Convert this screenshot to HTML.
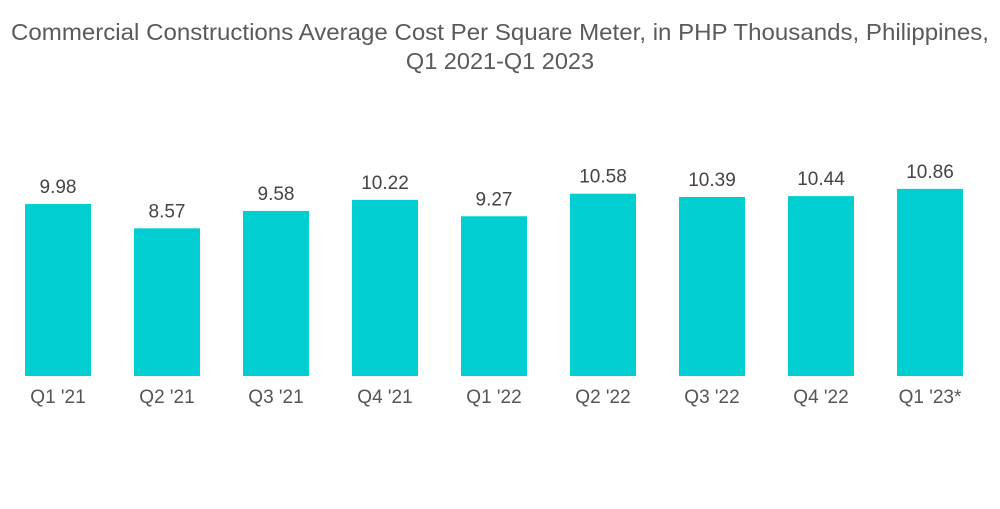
<!DOCTYPE html>
<html><head><meta charset="utf-8"><style>
body{margin:0;background:#fff;width:1000px;height:504px;overflow:hidden;font-family:"Liberation Sans",sans-serif}
</style></head><body>
<svg width="1000" height="504">
<text x="500" y="40" text-anchor="middle" font-size="23.5" fill="#5a5a5a" textLength="978" lengthAdjust="spacingAndGlyphs">Commercial Constructions Average Cost Per Square Meter, in PHP Thousands, Philippines,</text>
<text x="500" y="69" text-anchor="middle" font-size="23.5" fill="#5a5a5a">Q1 2021-Q1 2023</text>
<g id="bars"></g>
</svg>
<script>
const categories=["Q1 '21","Q2 '21","Q3 '21","Q4 '21","Q1 '22","Q2 '22","Q3 '22","Q4 '22","Q1 '23*"];
const values=[9.98,8.57,9.58,10.22,9.27,10.58,10.39,10.44,10.86];
const valueLabels=["9.98","8.57","9.58","10.22","9.27","10.58","10.39","10.44","10.86"];
const base=376, scale=17.23, x0=58, pitch=109, bw=66;
const xPos=i=>x0+i*pitch;
const yPos=v=>base-v*scale;
const g=document.getElementById('bars');
const NS='http://www.w3.org/2000/svg';
values.forEach((v,i)=>{
  const r=document.createElementNS(NS,'rect');
  r.setAttribute('x',xPos(i)-bw/2);r.setAttribute('y',yPos(v));
  r.setAttribute('width',bw);r.setAttribute('height',base-yPos(v));
  r.setAttribute('fill','#00CED1');
  
  
  g.appendChild(r);
  const t=document.createElementNS(NS,'text');
  t.setAttribute('x',xPos(i));t.setAttribute('y',yPos(v)-11);
  t.setAttribute('text-anchor','middle');t.setAttribute('font-size','19');t.setAttribute('fill','#444');
  t.textContent=valueLabels[i];
  
  
  g.appendChild(t);
  const c=document.createElementNS(NS,'text');
  c.setAttribute('x',xPos(i));c.setAttribute('y',403);
  c.setAttribute('text-anchor','middle');c.setAttribute('font-size','19');c.setAttribute('fill','#555');
  c.textContent=categories[i];
  
  
  g.appendChild(c);
});
</script>
</body></html>
